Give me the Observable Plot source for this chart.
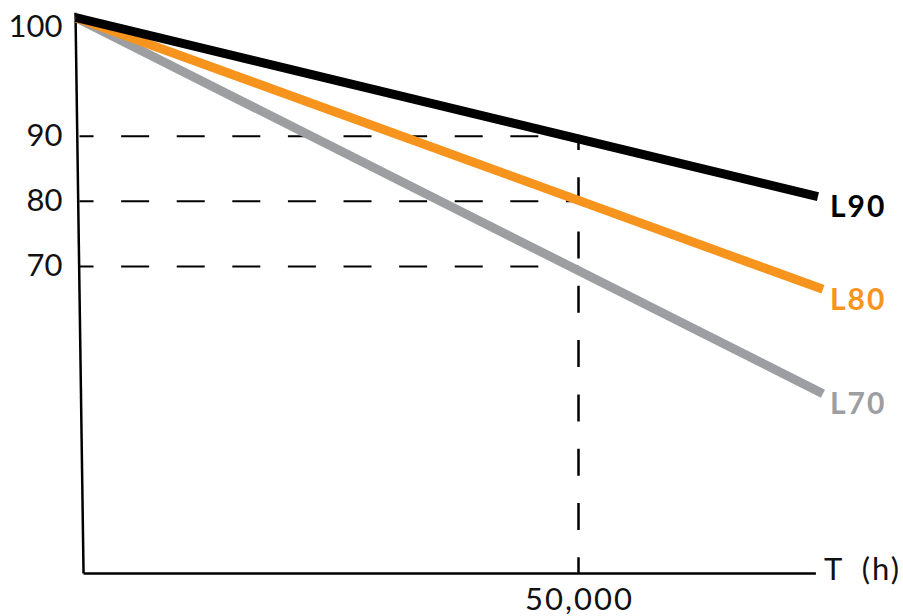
<!DOCTYPE html>
<html>
<head>
<meta charset="utf-8">
<script src="https://cdn.jsdelivr.net/npm/d3@7"></script>
<script src="https://cdn.jsdelivr.net/npm/@observablehq/plot@0.6"></script>
<style>
  html, body { margin: 0; padding: 0; background: #ffffff; }
  #chart svg { display: block; }
</style>
</head>
<body>
<div id="chart"></div>
<script>
// ---- data ----
const series = ["L90", "L80", "L70"];
const seriesColors = ["#000000", "#F7941D", "#9C9EA1"];
const startHours = [0, 0, 0];
const startValues = [100, 100, 100];
const endHours = [73800, 74300, 74300];
const endValues = [80.7, 64.8, 41.0];

const yTickValues = [100, 90, 80, 70];
const yTickLabels = ["100", "90", "80", "70"];
const xTickValue = 50000;
const xTickLabel = "50,000";
const xAxisTitle = "T\u2002(h)";
const guideValues = [90, 80, 70];
const axisStartHours = 800;
const axisEndHours = 73600;
const labelHours = 74300;

// ---- tables built from the arrays ----
const lineData = [];
for (let i = series.length - 1; i >= 0; i--) {
  lineData.push({series: series[i], t: startHours[i], v: startValues[i]});
  lineData.push({series: series[i], t: endHours[i], v: endValues[i]});
}
const endData = series.map((s, i) => ({series: s, t: labelHours, v: endValues[i]}));
const yTicks = yTickValues.map((v, i) => ({v, label: yTickLabels[i]}));

const chart = Plot.plot({
  width: 903,
  height: 616,
  margin: 0,
  style: {fontFamily: "Lato, 'Open Sans', sans-serif", background: "#ffffff", overflow: "visible"},
  x: {type: "linear", domain: [0, 50000], range: [75, 578], axis: null},
  y: {type: "linear", domain: [0, 70, 80, 90, 100], range: [573, 266, 200.7, 135.7, 17], axis: null},
  color: {domain: series, range: seriesColors},
  marks: [
    // horizontal dashed guides
    Plot.link(guideValues, {
      x1: 400, x2: xTickValue, y1: d => d, y2: d => d,
      stroke: "#000", strokeWidth: 2, strokeDasharray: "28,27.6", strokeDashoffset: 14
    }),
    // vertical dashed guide
    Plot.link([xTickValue], {
      x1: d => d, x2: d => d, y1: 90, y2: 0,
      stroke: "#000", strokeWidth: 2.5, strokeDasharray: "27,27.3", strokeDashoffset: 13.3
    }),
    // axes lines
    Plot.link([0], {x1: 0, y1: 100.4, x2: axisStartHours, y2: 0, stroke: "#000", strokeWidth: 2.5}),
    Plot.link([0], {x1: axisStartHours, y1: 0, x2: axisEndHours, y2: 0, stroke: "#000", strokeWidth: 2.5}),
    // series lines
    Plot.line(lineData, {x: "t", y: "v", z: "series", stroke: "series", strokeWidth: 9, strokeLinecap: "butt"}),
    // series labels
    Plot.text(endData, {
      x: "t", y: "v", text: "series", fill: "series", dx: 7, dy: 11,
      textAnchor: "start", fontWeight: "bold", fontSize: 30
    }),
    // y tick labels
    Plot.text(yTicks.filter(d => d.v !== 100), {
      x: 0, y: "v", text: "label", dx: -13, textAnchor: "end", fontSize: 31, fill: "#111"
    }),
    Plot.text(yTicks.filter(d => d.v === 100), {
      x: 0, y: "v", text: "label", dx: -13, dy: 9.5, textAnchor: "end", fontSize: 31, fill: "#111"
    }),
    // x tick label
    Plot.text([xTickValue], {
      x: d => d, y: 0, text: () => xTickLabel, dy: 27, textAnchor: "middle", fontSize: 31, fill: "#111"
    }),
    // x axis title
    Plot.text([axisEndHours], {
      x: d => d, y: 0, text: () => xAxisTitle, dx: 8, dy: -3, textAnchor: "start", fontSize: 31, fill: "#111"
    })
  ]
});
// widen the lettering a little to match the reference typeface
d3.select(chart).selectAll("text").each(function() {
  const t = this.textContent;
  if (series.includes(t)) this.setAttribute("letter-spacing", "2");
  else if (t === xTickLabel) { this.setAttribute("letter-spacing", "2"); this.setAttribute("dx", "1"); }
  else if (t === xAxisTitle) this.setAttribute("letter-spacing", "2");
});
document.getElementById("chart").appendChild(chart);
</script>
</body>
</html>
